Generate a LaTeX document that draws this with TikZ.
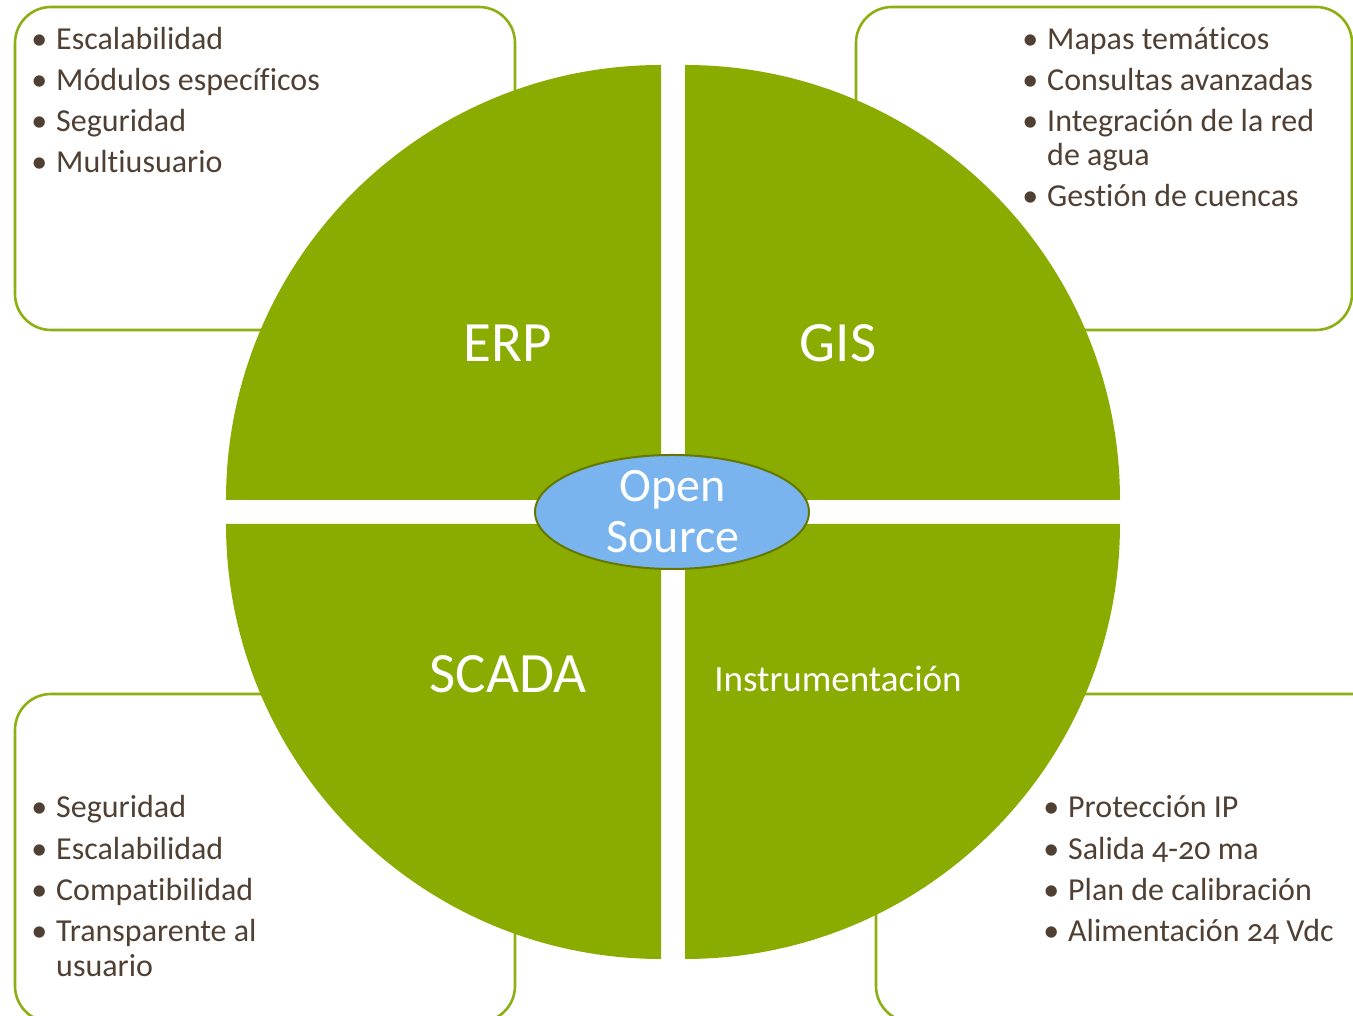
\documentclass[tikz,border=0pt]{standalone}
\usepackage{fontspec}
\setmainfont{Carlito}[Numbers=OldStyle,Ligatures=NoCommon]
\usetikzlibrary{shapes.geometric}
\definecolor{leaf}{RGB}{138,171,0}
\definecolor{boxline}{RGB}{140,176,20}
\definecolor{brownt}{RGB}{80,64,52}
\definecolor{skyb}{RGB}{122,180,238}
\definecolor{ellline}{RGB}{100,120,0}
\tikzset{
  infobox/.style={draw=boxline, line width=2.6pt, rounded corners=36pt, fill=white},
  quad/.style={fill=leaf},
  itm/.style={anchor=base west, inner sep=0pt, text=brownt, font=\fontsize{32}{38}\selectfont},
  big/.style={anchor=base, inner sep=0pt, text=white, font=\fontsize{57}{60}\selectfont},
}
\newcommand{\bl}{\llap{\textbullet\hspace{9pt}}}
\begin{document}
\begin{tikzpicture}[x=1pt,y=1pt]
\useasboundingbox (0,0) rectangle (1353,1016);
% boxes
\draw[infobox] (15,686) rectangle (515,1009);
\draw[infobox] (856,686) rectangle (1352,1009);
\draw[infobox] (15,-6) rectangle (515,322);
\draw[infobox] (876,-6) rectangle (1390,322);
% quadrants
\fill[quad] (661,516) -- ++(-435,0) arc (180:90:435) -- cycle;
\fill[quad] (685,516) -- ++(0,435) arc (90:0:435) -- cycle;
\fill[quad] (661,492) -- ++(-435,0) arc (180:270:435) -- cycle;
\fill[quad] (685,492) -- ++(435,0) arc (0:-90:435) -- cycle;
% labels
\node[big] (erp) at (508,654) {ERP};
\node[big] (gis) at (838,654) {GIS};
\node[big] (scada) at (508,323) {SCADA};
\node[big, font=\fontsize{37}{40}\selectfont] (instr) at (838,324) {Instrumentación};
% center ellipse
\node[ellipse, draw=ellline, line width=2pt, fill=skyb, minimum width=274pt, minimum height=114pt, inner sep=0pt] (os) at (672,504) {};
\node[anchor=base, inner sep=0pt, text=white, font=\fontsize{48}{50}\selectfont] (os1) at (673,514) {Open};
\node[anchor=base, inner sep=0pt, text=white, font=\fontsize{48}{50}\selectfont] (os2) at (673,463) {Source};
% TL list
\node[itm] (a1) at (56,966) {\bl Escalabilidad};
\node[itm] (a2) at (56,925) {\bl Módulos específicos};
\node[itm] (a3) at (56,884) {\bl Seguridad};
\node[itm] (a4) at (56,843) {\bl Multiusuario};
% TR list
\node[itm] (b1) at (1047,966) {\bl Mapas temáticos};
\node[itm] (b2) at (1047,925) {\bl Consultas avanzadas};
\node[itm] (b3) at (1047,884) {\bl Integración de la red};
\node[itm] (b3b) at (1047,850) {de agua};
\node[itm] (b4) at (1047,809) {\bl Gestión de cuencas};
% BL list
\node[itm] (c1) at (56,198) {\bl Seguridad};
\node[itm] (c2) at (56,156) {\bl Escalabilidad};
\node[itm] (c3) at (56,115) {\bl Compatibilidad};
\node[itm] (c4) at (56,74) {\bl Transparente al};
\node[itm] (c4b) at (56,39) {usuario};
% BR list
\node[itm] (d1) at (1068,198) {\bl Protección IP};
\node[itm] (d2) at (1068,156) {\bl Salida 4-20 ma};
\node[itm] (d3) at (1068,115) {\bl Plan de calibración};
\node[itm] (d4) at (1068,74) {\bl Alimentación 24 Vdc};
\end{tikzpicture}
\end{document}
